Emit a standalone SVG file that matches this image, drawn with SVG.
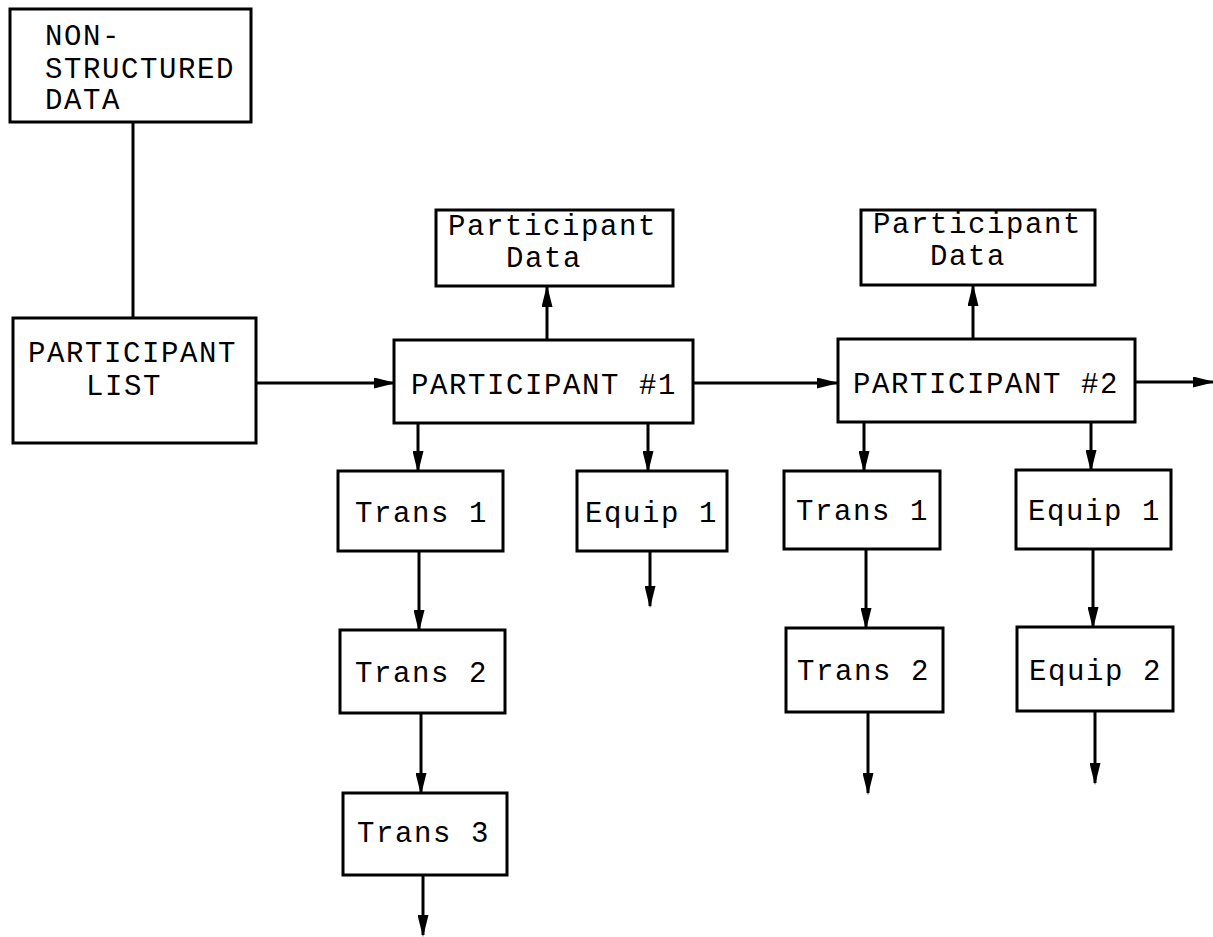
<svg xmlns="http://www.w3.org/2000/svg" width="1213" height="937" viewBox="0 0 1213 937">
<style>
.box{fill:#fff;stroke:#000;stroke-width:3}
.t{font-family:"Liberation Mono","DejaVu Sans Mono",monospace;font-size:29px;letter-spacing:1.6px;fill:#000}
.c{fill:none;stroke:#000;stroke-width:3}
</style>
<defs>
<marker id="ah" markerWidth="22" markerHeight="11" refX="20" refY="5.5" orient="auto" markerUnits="userSpaceOnUse">
<path d="M0,0 L22,5.5 L0,11 Z" fill="#000"/>
</marker>
</defs>
<rect width="1213" height="937" fill="#fff"/>
<g id="connectors">
<line class="c" x1="133" y1="122" x2="133" y2="318"/>
<line class="c" x1="256" y1="383" x2="394" y2="383" marker-end="url(#ah)"/>
<line class="c" x1="547" y1="340" x2="547" y2="287" marker-end="url(#ah)"/>
<line class="c" x1="693" y1="383" x2="837" y2="383" marker-end="url(#ah)"/>
<line class="c" x1="973" y1="339" x2="973" y2="286" marker-end="url(#ah)"/>
<line class="c" x1="1135" y1="382" x2="1213" y2="382" marker-end="url(#ah)"/>
<line class="c" x1="418" y1="423" x2="418" y2="471" marker-end="url(#ah)"/>
<line class="c" x1="648" y1="423" x2="648" y2="471" marker-end="url(#ah)"/>
<line class="c" x1="650" y1="551" x2="650" y2="606" marker-end="url(#ah)"/>
<line class="c" x1="419" y1="551" x2="419" y2="630" marker-end="url(#ah)"/>
<line class="c" x1="421" y1="713" x2="421" y2="793" marker-end="url(#ah)"/>
<line class="c" x1="423" y1="875" x2="423" y2="935" marker-end="url(#ah)"/>
<line class="c" x1="864" y1="422" x2="864" y2="471" marker-end="url(#ah)"/>
<line class="c" x1="1091" y1="422" x2="1091" y2="470" marker-end="url(#ah)"/>
<line class="c" x1="866" y1="549" x2="866" y2="628" marker-end="url(#ah)"/>
<line class="c" x1="1093" y1="549" x2="1093" y2="627" marker-end="url(#ah)"/>
<line class="c" x1="868" y1="712" x2="868" y2="793" marker-end="url(#ah)"/>
<line class="c" x1="1095" y1="711" x2="1095" y2="783" marker-end="url(#ah)"/>
</g>
<g id="nonstructured">
<rect class="box" x="10" y="9" width="241" height="113"/>
<text class="t" x="45" y="45">NON-</text>
<text class="t" x="45" y="78">STRUCTURED</text>
<text class="t" x="45" y="109">DATA</text>
</g>
<g id="plist">
<rect class="box" x="13" y="318" width="243" height="125"/>
<text class="t" x="28" y="362">PARTICIPANT</text>
<text class="t" x="86" y="395">LIST</text>
</g>
<g id="p1">
<rect class="box" x="394" y="340" width="299" height="83"/>
<text class="t" x="411" y="394">PARTICIPANT #1</text>
</g>
<g id="pd1">
<rect class="box" x="436" y="210" width="237" height="76"/>
<text class="t" x="448" y="235">Participant</text>
<text class="t" x="506" y="267">Data</text>
</g>
<g id="p2">
<rect class="box" x="838" y="339" width="297" height="83"/>
<text class="t" x="853" y="393">PARTICIPANT #2</text>
</g>
<g id="pd2">
<rect class="box" x="861" y="210" width="234" height="75"/>
<text class="t" x="873" y="233">Participant</text>
<text class="t" x="930" y="265">Data</text>
</g>
<g id="p1trans1">
<rect class="box" x="338" y="471" width="165" height="80"/>
<text class="t" x="355" y="522">Trans 1</text>
</g>
<g id="p1equip1">
<rect class="box" x="577" y="471" width="150" height="80"/>
<text class="t" x="585" y="522">Equip 1</text>
</g>
<g id="p1trans2">
<rect class="box" x="340" y="630" width="165" height="83"/>
<text class="t" x="355" y="682">Trans 2</text>
</g>
<g id="p1trans3">
<rect class="box" x="343" y="793" width="164" height="82"/>
<text class="t" x="357" y="842">Trans 3</text>
</g>
<g id="p2trans1">
<rect class="box" x="784" y="471" width="156" height="78"/>
<text class="t" x="796" y="520">Trans 1</text>
</g>
<g id="p2equip1">
<rect class="box" x="1016" y="470" width="155" height="79"/>
<text class="t" x="1028" y="520">Equip 1</text>
</g>
<g id="p2trans2">
<rect class="box" x="786" y="628" width="157" height="84"/>
<text class="t" x="797" y="680">Trans 2</text>
</g>
<g id="p2equip2">
<rect class="box" x="1017" y="627" width="156" height="84"/>
<text class="t" x="1029" y="680">Equip 2</text>
</g>
</svg>
